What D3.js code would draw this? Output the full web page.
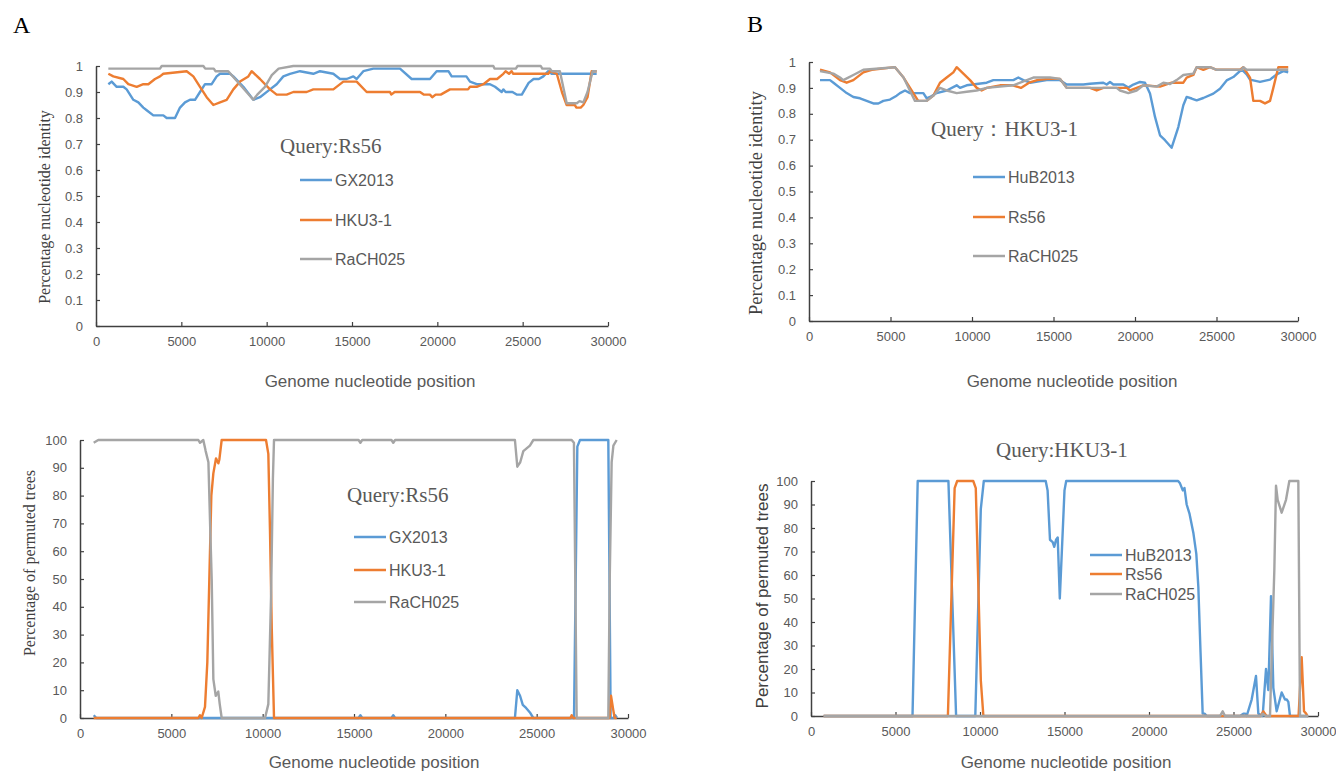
<!DOCTYPE html>
<html>
<head>
<meta charset="utf-8">
<script src="https://cdn.jsdelivr.net/npm/d3@7"></script>
<style>
  body { margin: 0; background: #fff; }
  svg { display: block; }
</style>
</head>
<body>
<div id="chart"></div>
<script>
// values: [genome position, value]
const xTicks = [0, 5000, 10000, 15000, 20000, 25000, 30000];
const identityTicks = [0, 0.1, 0.2, 0.3, 0.4, 0.5, 0.6, 0.7, 0.8, 0.9, 1];
const permutedTicks = [0, 10, 20, 30, 40, 50, 60, 70, 80, 90, 100];

const namesA = ["GX2013", "HKU3-1", "RaCH025"];
const namesB = ["HuB2013", "Rs56", "RaCH025"];

// A: query Rs56, nucleotide identity
const identA_GX2013 = [[723,0.93],[918,0.94],[1211,0.92],[1602,0.92],[1797,0.91],[2188,0.87],[2480,0.86],[2773,0.84],[2969,0.83],[3359,0.81],[3945,0.81],[4141,0.80],[4629,0.80],[4922,0.84],[5215,0.86],[5508,0.87],[5801,0.87],[6094,0.90],[6387,0.93],[6777,0.93],[7070,0.96],[7266,0.97],[7852,0.97],[8047,0.96],[8633,0.92],[9219,0.87],[9609,0.88],[10195,0.91],[10586,0.93],[10976,0.96],[11367,0.97],[11953,0.98],[12734,0.97],[13125,0.98],[13906,0.97],[14297,0.95],[14687,0.95],[15078,0.96],[15273,0.95],[15664,0.98],[16250,0.99],[17812,0.99],[18495,0.95],[19570,0.95],[19960,0.98],[20650,0.98],[20840,0.96],[21700,0.96],[21914,0.94],[22305,0.93],[23086,0.93],[23380,0.92],[23770,0.90],[23867,0.91],[24000,0.90],[24400,0.90],[24648,0.89],[24950,0.89],[25350,0.935],[25640,0.95],[25950,0.95],[26211,0.96],[26500,0.98],[26700,0.97],[29336,0.97]];
const identA_HKU31 = [[723,0.97],[1016,0.96],[1602,0.95],[1895,0.93],[2383,0.92],[2773,0.93],[3066,0.93],[3457,0.95],[3750,0.96],[3945,0.97],[5312,0.98],[5703,0.96],[6094,0.92],[6484,0.88],[6875,0.85],[7266,0.86],[7656,0.87],[8047,0.91],[8437,0.94],[8926,0.96],[9121,0.98],[9609,0.95],[10195,0.91],[10586,0.89],[11172,0.89],[11562,0.90],[12344,0.90],[12734,0.91],[13906,0.91],[14492,0.94],[15273,0.94],[15860,0.90],[17226,0.90],[17300,0.89],[17500,0.90],[18983,0.90],[19200,0.89],[19570,0.89],[19700,0.88],[19900,0.89],[20200,0.89],[20742,0.91],[21800,0.91],[21914,0.92],[22305,0.92],[22700,0.93],[23086,0.95],[23500,0.95],[23867,0.97],[24000,0.98],[24200,0.97],[24350,0.98],[24450,0.97],[26500,0.97],[26600,0.98],[27000,0.97],[27300,0.90],[27578,0.85],[28050,0.85],[28150,0.84],[28400,0.84],[28555,0.85],[28800,0.88],[29043,0.98],[29336,0.98]];
const identA_RaCH025 = [[723,0.99],[3750,0.99],[3850,1.0],[6290,1.0],[6400,0.99],[6900,0.99],[7000,0.98],[7750,0.98],[9220,0.87],[9450,0.89],[9900,0.92],[10300,0.965],[10700,0.99],[11560,1.0],[23280,1.0],[23350,0.99],[24600,0.99],[24700,1.0],[26060,1.0],[26150,0.99],[26600,0.99],[26700,0.98],[27180,0.98],[27580,0.857],[28170,0.857],[28330,0.865],[28555,0.86],[28800,0.90],[29100,0.98],[29336,0.98]];

// B: query HKU3-1, nucleotide identity
const identB_HuB2013 = [[675,0.93],[1288,0.93],[1500,0.92],[1902,0.90],[2311,0.88],[2720,0.865],[3129,0.86],[3538,0.85],[3947,0.84],[4254,0.84],[4560,0.85],[4969,0.855],[5378,0.87],[5583,0.88],[5890,0.89],[6197,0.88],[7015,0.88],[7220,0.86],[7424,0.865],[7833,0.88],[8447,0.89],[9060,0.91],[9265,0.90],[9674,0.91],[10900,0.92],[11310,0.93],[12537,0.93],[12843,0.94],[13150,0.93],[13560,0.92],[14580,0.93],[15399,0.93],[15808,0.913],[16830,0.913],[17240,0.916],[18057,0.92],[18262,0.913],[18466,0.923],[18671,0.913],[19284,0.913],[19591,0.901],[19898,0.913],[20307,0.923],[20613,0.92],[20920,0.878],[21227,0.788],[21534,0.717],[21840,0.698],[22249,0.669],[22658,0.749],[22965,0.833],[23169,0.865],[23476,0.859],[23783,0.852],[24192,0.861],[24805,0.878],[25214,0.897],[25623,0.929],[26032,0.942],[26543,0.971],[26850,0.952],[27055,0.932],[27668,0.923],[28282,0.932],[28691,0.952],[29100,0.965],[29400,0.96]];
const identB_Rs56 = [[675,0.97],[1288,0.96],[1902,0.93],[2311,0.92],[2720,0.93],[3333,0.96],[3850,0.97],[5276,0.98],[5800,0.94],[6197,0.90],[6700,0.85],[7220,0.85],[7630,0.87],[8037,0.92],[8447,0.94],[8856,0.96],[9060,0.98],[9470,0.955],[9880,0.93],[10290,0.90],[10590,0.89],[10900,0.90],[11719,0.91],[12500,0.91],[13000,0.90],[13500,0.92],[14000,0.93],[14785,0.936],[15400,0.935],[15808,0.90],[17240,0.90],[17650,0.89],[18057,0.90],[19500,0.90],[19700,0.89],[20511,0.91],[21534,0.905],[22249,0.92],[22965,0.92],[23169,0.94],[23578,0.95],[23783,0.98],[24192,0.97],[24600,0.98],[25010,0.97],[26441,0.97],[26645,0.98],[27055,0.94],[27259,0.85],[27668,0.85],[27975,0.84],[28282,0.85],[28486,0.90],[28793,0.98],[29400,0.98]];
const identB_RaCH025 = [[675,0.965],[1492,0.955],[1902,0.94],[2106,0.93],[2720,0.95],[3333,0.97],[5276,0.98],[5800,0.94],[6500,0.85],[7220,0.85],[7630,0.87],[8037,0.90],[8447,0.89],[9060,0.88],[9674,0.885],[10290,0.89],[10900,0.90],[12537,0.91],[13764,0.94],[14785,0.94],[15400,0.935],[15808,0.90],[18875,0.90],[19080,0.89],[19591,0.88],[20100,0.89],[20511,0.91],[21330,0.905],[21740,0.92],[22150,0.915],[22550,0.93],[22965,0.95],[23578,0.955],[23783,0.98],[24600,0.98],[25010,0.97],[26543,0.97],[26645,0.98],[26850,0.97],[29400,0.97]];

// C: query Rs56, permuted trees (%)
const permC_GX2013 = [[750,1],[900,0],[15250,0],[15350,1],[15450,0],[17050,0],[17150,1],[17250,0],[23810,0],[23940,10],[24090,8],[24240,4.7],[24420,3.6],[24630,2],[24817,0],[27044,0],[27226,97.6],[27372,100],[28922,100],[29050,0],[29200,0],[29300,1],[29400,0]];
const permC_HKU31 = [[750,0],[6480,0],[6570,1],[6660,0],[6843,4],[6970,20],[7080,50],[7190,80],[7300,88],[7445,93.4],[7573,91.6],[7630,93],[7756,100],[10183,100],[10310,95],[10400,67.6],[10500,31.7],[10621,0],[26850,0],[26916,1],[27000,0],[28990,0],[29070,8],[29190,3],[29270,0],[29380,0]];
const permC_RaCH025 = [[750,99],[1000,100],[6480,100],[6570,99],[6750,100],[6880,96],[7030,92],[7130,68],[7210,50],[7300,14],[7430,8],[7570,9.5],[7650,5],[7756,0],[10130,0],[10310,5],[10460,44],[10560,86],[10621,100],[15250,100],[15350,99],[15450,100],[17050,100],[17150,99],[17250,100],[23810,100],[23940,90.4],[24100,92],[24270,96],[24450,97],[24630,98],[24817,100],[26916,100],[27040,99],[27190,0],[28922,0],[29000,50],[29105,92],[29200,98],[29380,100]];

// D: query HKU3-1, permuted trees (%)
const permD_HuB2013 = [[750,0],[6006,0],[6314,100],[8131,100],[8586,0],[9722,0],[10047,88],[10225,100],[13888,100],[14000,96],[14141,75],[14300,74],[14395,72],[14500,75],[14598,76],[14722,50],[15000,96],[15101,100],[21722,100],[21834,99],[22000,96],[22100,97],[22229,90],[22400,86],[22623,78],[22800,69],[22919,55],[23050,27],[23176,1],[23300,1],[23412,0],[25385,0],[25582,1],[25700,1],[25779,0],[26075,7],[26331,17],[26469,1],[26726,0],[26923,20],[27061,11],[27219,51],[27357,12],[27554,2],[27850,10],[28047,7],[28150,7],[28245,6],[28343,0],[29420,0]];
const permD_Rs56 = [[750,0],[8100,0],[8500,97],[8650,100],[9600,100],[9750,97],[10050,15],[10200,0],[26600,0],[26765,2],[26950,0],[28850,0],[29034,25],[29172,2],[29300,1],[29369,0],[29420,0]];
const permD_RaCH025 = [[750,0],[24200,0],[24359,2],[24500,0],[26650,0],[26726,1],[26900,0],[27160,0],[27258,25],[27416,62],[27515,98],[27613,92],[27850,86.5],[28107,92],[28304,100],[28836,100],[28935,0],[29420,0]];

const colors = ["#5B9BD5", "#ED7D31", "#A5A5A5"];
const tickGrey = "#595959";
const sansFont = "'Liberation Sans', Arial, sans-serif";
const serifFont = "'Liberation Serif', 'Times New Roman', serif";

const svg = d3.select("#chart").append("svg")
    .attr("width", 1336)
    .attr("height", 774);

const panels = [
    { label: "A", labelX: 13, labelY: 33,
      x: [96, 608], y: [326, 66], yMax: 1, yTicks: identityTicks,
      series: [identA_GX2013, identA_HKU31, identA_RaCH025], names: namesA,
      yTitle: "Percentage nucleotide identity", yTitleFont: serifFont, yTitleSize: 16, yTitleX: 44, yTitleY: 207,
      xTitleX: 370, xTitleY: 387,
      query: "Query:Rs56", queryX: 280, queryY: 153,
      legendX: 300, legendY: [180, 220, 259] },
    { label: "B", labelX: 747, labelY: 32,
      x: [809, 1298], y: [321, 62], yMax: 1, yTicks: identityTicks,
      series: [identB_HuB2013, identB_Rs56, identB_RaCH025], names: namesB,
      yTitle: "Percentage nucleotide identity", yTitleFont: serifFont, yTitleSize: 18.5, yTitleX: 756, yTitleY: 203,
      xTitleX: 1072, xTitleY: 387,
      query: "Query：HKU3-1", queryX: 931, queryY: 136,
      legendX: 973, legendY: [177, 217, 256] },
    { x: [80, 628], y: [718, 440], yMax: 100, yTicks: permutedTicks,
      series: [permC_GX2013, permC_HKU31, permC_RaCH025], names: namesA,
      yTitle: "Percentage of permuted trees", yTitleFont: serifFont, yTitleSize: 16, yTitleX: 29, yTitleY: 563,
      xTitleX: 374, xTitleY: 768,
      query: "Query:Rs56", queryX: 347, queryY: 502,
      legendX: 354, legendY: [537, 570, 602] },
    { x: [811, 1318], y: [716, 481], yMax: 100, yTicks: permutedTicks,
      series: [permD_HuB2013, permD_Rs56, permD_RaCH025], names: namesB,
      yTitle: "Percentage of permuted trees", yTitleFont: sansFont, yTitleSize: 17, yTitleX: 762, yTitleY: 596,
      xTitleX: 1066, xTitleY: 768,
      query: "Query:HKU3-1", queryX: 996, queryY: 457,
      legendX: 1090, legendY: [555, 574, 594] }
];

panels.forEach(p => {
    const xScale = d3.scaleLinear().domain([0, 30000]).range(p.x);
    const yScale = d3.scaleLinear().domain([0, p.yMax]).range(p.y);
    const g = svg.append("g");

    if (p.label) {
        g.append("text")
            .attr("x", p.labelX).attr("y", p.labelY)
            .style("font-family", serifFont)
            .style("font-size", "24px")
            .attr("fill", "#000")
            .text(p.label);
    }

    // x axis, ticks pointing inward
    const xAxis = g.append("g")
        .attr("transform", `translate(0,${p.y[0]})`)
        .call(d3.axisBottom(xScale).tickValues(xTicks).tickSize(-4).tickSizeOuter(0).tickPadding(11).tickFormat(d3.format("d")));
    const yAxis = g.append("g")
        .attr("transform", `translate(${p.x[0]},0)`)
        .call(d3.axisLeft(yScale).tickValues(p.yTicks).tickSize(-4).tickSizeOuter(0).tickPadding(13).tickFormat(d => String(+d.toFixed(1))));

    [xAxis, yAxis].forEach(ax => {
        ax.select(".domain").attr("stroke", "#404040").attr("stroke-width", 1.5);
        ax.selectAll(".tick line").attr("stroke", "#404040").attr("stroke-width", 1.2);
        ax.selectAll(".tick text")
            .attr("fill", tickGrey)
            .style("font-family", sansFont)
            .style("font-size", "13px");
    });

    const line = d3.line()
        .x(d => xScale(d[0]))
        .y(d => yScale(d[1]));

    p.series.forEach((s, i) => {
        g.append("path")
            .datum(s)
            .attr("d", line)
            .attr("fill", "none")
            .attr("stroke", colors[i])
            .attr("stroke-width", 2.4)
            .attr("stroke-linejoin", "round");
    });

    // axis titles
    g.append("text")
        .attr("transform", `translate(${p.yTitleX},${p.yTitleY}) rotate(-90)`)
        .attr("text-anchor", "middle")
        .attr("dominant-baseline", "central")
        .style("font-family", p.yTitleFont)
        .style("font-size", p.yTitleSize + "px")
        .attr("fill", "#404040")
        .text(p.yTitle);

    g.append("text")
        .attr("x", p.xTitleX).attr("y", p.xTitleY)
        .attr("text-anchor", "middle")
        .style("font-family", sansFont)
        .style("font-size", "17px")
        .attr("fill", tickGrey)
        .text("Genome nucleotide position");

    g.append("text")
        .attr("x", p.queryX).attr("y", p.queryY)
        .style("font-family", serifFont)
        .style("font-size", "21px")
        .attr("fill", tickGrey)
        .text(p.query);

    // legend
    p.names.forEach((n, i) => {
        g.append("line")
            .attr("x1", p.legendX).attr("x2", p.legendX + 32)
            .attr("y1", p.legendY[i]).attr("y2", p.legendY[i])
            .attr("stroke", colors[i])
            .attr("stroke-width", 2.5);
        g.append("text")
            .attr("x", p.legendX + 35).attr("y", p.legendY[i])
            .attr("dominant-baseline", "central")
            .style("font-family", sansFont)
            .style("font-size", "16px")
            .attr("fill", tickGrey)
            .text(n);
    });
});
</script>
</body>
</html>
